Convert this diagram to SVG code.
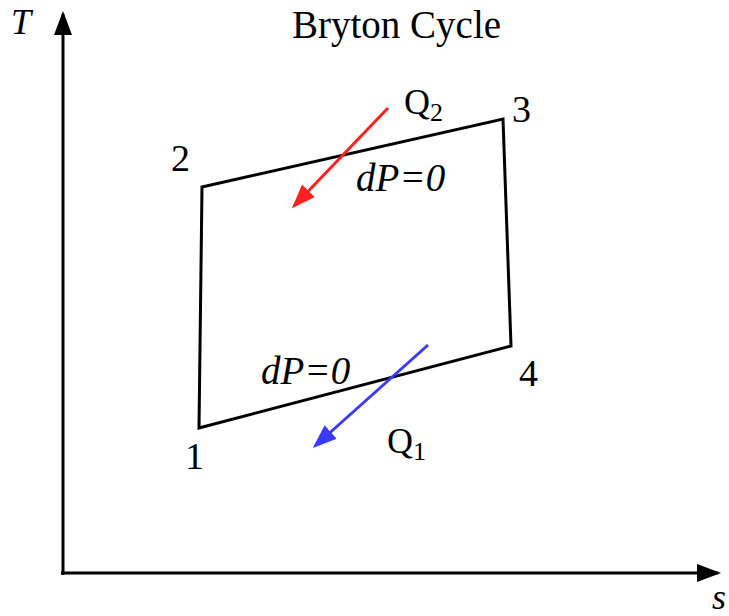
<svg xmlns="http://www.w3.org/2000/svg" width="729" height="616" viewBox="0 0 729 616">
<style>
.t{font-family:"Liberation Serif","Times New Roman",serif;fill:#000}
.i{font-style:italic}
.ax{stroke:#000;stroke-width:3;fill:none}
.cyc{stroke:#000;stroke-width:3;fill:none;stroke-linejoin:miter}
</style>
<defs>
<marker id="ah" markerWidth="8" markerHeight="6" refX="7" refY="3" orient="auto" markerUnits="strokeWidth"><path d="M0,0 L8,3 L0,6 Z" fill="#000"/></marker>
<marker id="ar" markerWidth="8" markerHeight="6" refX="7" refY="3" orient="auto" markerUnits="strokeWidth"><path d="M0,0 L8,3 L0,6 Z" fill="#ff2020"/></marker>
<marker id="ab" markerWidth="8" markerHeight="6" refX="7" refY="3" orient="auto" markerUnits="strokeWidth"><path d="M0,0 L8,3 L0,6 Z" fill="#3a3aff"/></marker>
</defs>
<rect width="729" height="616" fill="#fff"/>
<g id="axes">
<line class="ax" x1="63" y1="575" x2="63" y2="14" marker-end="url(#ah)"/>
<line class="ax" x1="61" y1="573" x2="718" y2="573" marker-end="url(#ah)"/>
<text class="t i" x="11" y="34" font-size="36">T</text>
<text class="t i" x="712" y="609" font-size="36">s</text>
</g>
<text class="t" x="292" y="38" font-size="39">Bryton Cycle</text>
<g id="cycle">
<polygon class="cyc" points="199,428 202,187 503,119 511,346"/>
</g>
<g id="connectors">
<line x1="388" y1="108" x2="294" y2="206" stroke="#ff2020" stroke-width="3" marker-end="url(#ar)"/>
<line x1="428" y1="345" x2="315" y2="446" stroke="#3a3aff" stroke-width="3" marker-end="url(#ab)"/>
</g>
<g id="labels">
<text class="t" x="171" y="171" font-size="38">2</text>
<text class="t" x="512" y="122" font-size="38">3</text>
<text class="t" x="519" y="386" font-size="38">4</text>
<text class="t" x="185" y="469" font-size="38">1</text>
<text class="t" x="404" y="114" font-size="36">Q<tspan font-size="26" dy="7">2</tspan></text>
<text class="t" x="387" y="453" font-size="36">Q<tspan font-size="26" dy="7">1</tspan></text>
<text class="t i" x="356" y="191" font-size="39">dP=0</text>
<text class="t i" x="261" y="384" font-size="39">dP=0</text>
</g>
</svg>
